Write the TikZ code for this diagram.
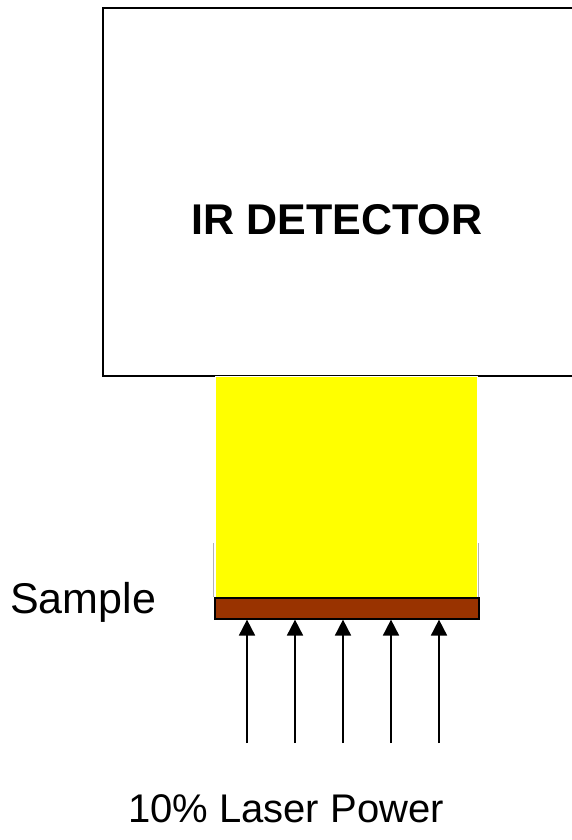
\documentclass[tikz,border=0pt]{standalone}
\usepackage{fontspec}
\setmainfont{Liberation Sans}
\usetikzlibrary{arrows.meta}
\definecolor{samplebrown}{RGB}{153,51,0}
\definecolor{pureyellow}{RGB}{255,255,0}
\begin{document}
\begin{tikzpicture}[x=1pt,y=-1pt,
  detbox/.style={draw=black,line width=2.4pt,fill=white,inner sep=0pt,anchor=north west},
  glow/.style={fill=pureyellow,draw=white,line width=1pt,inner sep=0pt,anchor=north west},
  strip/.style={fill=samplebrown,draw=black,line width=1.6pt,inner sep=0pt,anchor=north west},
  beam/.style={line width=1.8pt,-{Triangle[length=16pt,width=16pt]}},
  label/.style={inner sep=0pt,anchor=base}]
\useasboundingbox[fill=white] (0,0) rectangle (571,840);
% detector (extends past the right edge)
\node[detbox,minimum width=540pt,minimum height=368pt] (det) at (102,7) {};
\node[label,font=\bfseries\fontsize{43}{50}\selectfont] (dettext) at (337,234) {IR DETECTOR};
% yellow sample volume
\node[glow,minimum width=262pt,minimum height=221pt] (yel) at (215,376) {};
\draw[gray!60,line width=0.8pt] (213,543) -- (213,597);
\draw[gray!60,line width=0.8pt] (478,543) -- (478,597);
% sample strip
\node[strip,minimum width=264pt,minimum height=21pt] (str) at (214,597) {};
\node[label,anchor=base west,font=\fontsize{43}{50}\selectfont] (samp) at (10,613) {Sample};
% laser beams
\foreach \i/\x in {1/247,2/295,3/343,4/391,5/439}{
  \coordinate (b\i) at (\x,743);
  \draw[beam] (b\i) -- (b\i |- str.south);
}
\node[label,font=\fontsize{40}{48}\selectfont] (laser) at (286,822) {10\% Laser Power};
\end{tikzpicture}
\end{document}
